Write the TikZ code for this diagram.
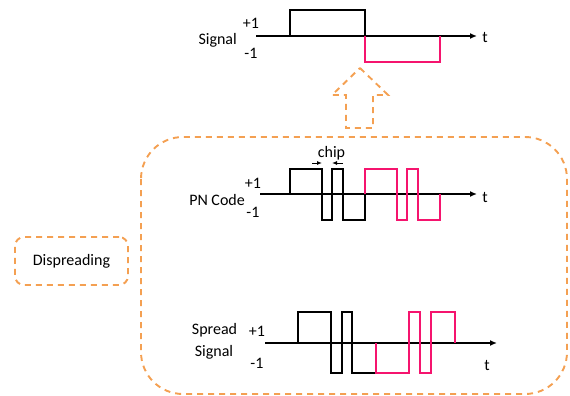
\documentclass[tikz,border=0pt]{standalone}
\usepackage{fontspec}
\setmainfont{Carlito}
\usetikzlibrary{arrows.meta}
\definecolor{dorange}{RGB}{244,160,82}
\definecolor{wpink}{RGB}{245,20,110}
\tikzset{
  lbl/.style={font=\fontsize{16}{18}\selectfont, inner sep=0pt},
  axis/.style={line width=1.8pt, -{Latex[length=7pt,width=6pt]}},
  wblack/.style={line width=1.8pt, black},
  wpinkl/.style={line width=1.8pt, wpink},
  odash/.style={draw=dorange, line width=1.9pt, dash pattern=on 6pt off 5pt},
}
\begin{document}
\begin{tikzpicture}[x=1pt,y=-1pt]
\useasboundingbox (0,0) rectangle (570,396);
% ---- top signal ----
\coordinate (s0) at (256,36);
\coordinate (s1) at (477,36);
\draw[axis] (s0) -- (s1);
\draw[wblack] (290,36) -- (290,10) -- (365,10) -- (365,36);
\draw[wpinkl] (365,36) -- (365,62) -- (440,62) -- (440,36);
\node[lbl, anchor=east] (sigl) at (237,40) {Signal};
\node[lbl] (sp1) at (251,23) {+1};
\node[lbl] (sm1) at (251,53) {-1};
\node[lbl] (st) at (485,38) {t};
% ---- block arrow ----
\draw[odash] (360,68) -- (388,95) -- (373,95) -- (373,128) -- (346,128) -- (346,95) -- (332,95) -- cycle;
% ---- big box ----
\draw[odash, rounded corners=42pt] (141,137) rectangle (567,394);
% ---- dispreading ----
\node[odash, draw, rounded corners=9pt, minimum width=113pt, minimum height=48pt, font=\fontsize{16}{18}\selectfont] (disp) at (71.5,261) {Dispreading};
% ---- PN code ----
\coordinate (p0) at (260,194);
\coordinate (p1) at (477,194);
\draw[axis] (p0) -- (p1);
\draw[wblack] (290,194) -- (290,169) -- (322,169) -- (322,220) -- (332,220) -- (332,169) -- (343,169) -- (343,220) -- (365,220) -- (365,194);
\draw[wpinkl] (365,194) -- (365,169) -- (397,169) -- (397,220) -- (407,220) -- (407,169) -- (418,169) -- (418,220) -- (440,220) -- (440,194);
\node[lbl, anchor=east] (pnl) at (245,200) {PN Code};
\node[lbl] (pp1) at (253,183) {+1};
\node[lbl] (pm1) at (253,212) {-1};
\node[lbl] (pt) at (485,197) {t};
\coordinate (cl) at (312,163);
\coordinate (cl2) at (322,163);
\coordinate (cr) at (343,163);
\coordinate (cr2) at (332,163);
\draw[line width=1pt, -{Latex[length=5pt,width=4pt]}] (cl) -- (cl2);
\draw[line width=1pt, -{Latex[length=5pt,width=4pt]}] (cr) -- (cr2);
\node[lbl] (chip) at (331.5,153) {chip};
% ---- spread signal ----
\coordinate (q0) at (265,343);
\coordinate (q1) at (497,343);
\draw[axis] (q0) -- (q1);
\draw[wblack] (298,343) -- (298,312) -- (331,312) -- (331,373) -- (342,373) -- (342,312) -- (352,312) -- (352,373) -- (376,373) -- (376,343);
\draw[wpinkl] (376,343) -- (376,373) -- (409,373) -- (409,312) -- (420,312) -- (420,373) -- (431,373) -- (431,312) -- (455,312) -- (455,343);
\node[lbl] (ssl) at (214.5,330) {Spread};
\node[lbl] (ssl2) at (214,352) {Signal};
\node[lbl] (qp1) at (257,331) {+1};
\node[lbl] (qm1) at (257,363) {-1};
\node[lbl] (qt) at (487,365) {t};
\end{tikzpicture}
\end{document}
